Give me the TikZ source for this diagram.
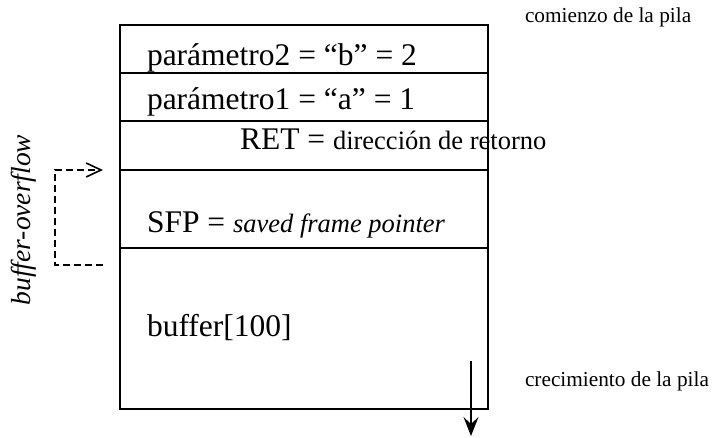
\documentclass[tikz,border=0pt]{standalone}
\usepackage{fontspec}
\setmainfont{Liberation Serif}
\usetikzlibrary{positioning,arrows.meta}

\begin{document}
\begin{tikzpicture}[x=1pt,y=-1pt] \tikzstyle{every node}=[inner sep=0pt,outer sep=0pt]
\tikzstyle{cell}=[draw,line width=1.2pt,minimum width=368pt]
\tikzstyle{big}=[font=\fontsize{31.5}{31.5}\selectfont,anchor=base west]
\tikzstyle{note}=[font=\fontsize{21.3}{21.3}\selectfont,anchor=base west]
\useasboundingbox (0,0) rectangle (712,437);
% the stack
\node[cell,minimum height=48pt] (c1) at (304,49) {};
\node[cell,minimum height=48pt,below=0pt of c1] (c2) {};
\node[cell,minimum height=49pt,below=0pt of c2] (c3) {};
\node[cell,minimum height=78pt,below=0pt of c3] (c4) {};
\node[cell,minimum height=161pt,below=0pt of c4] (c5) {};
\node[big] (par2) at (147,65) {parámetro2 = “b” = 2};
\node[big] (par1) at (147,109) {parámetro1 = “a” = 1};
\node[big] (ret) at (240,149) {RET = {\fontsize{26.5}{26.5}\selectfont dirección de retorno}};
\node[big] (sfp) at (147,232) {SFP = {\fontsize{26.5}{26.5}\selectfont\itshape saved frame pointer}};
\node[big] (buf) at (147,336) {buffer[100]};
\node[note] (start) at (525,22) {comienzo de la pila};
\node[note] (grow) at (525,386) {crecimiento de la pila};
% growth arrow
\coordinate (g0) at (471,361);
\coordinate (g1) at (471,436);
\draw[line width=1.5pt,-{Stealth[length=19pt,width=15pt,inset=7pt]}] (g0) -- (g1);
% overflow
\coordinate (ovb) at (103,265);
\coordinate (ovt) at (103,170);
\draw[line width=1.2pt,dash pattern=on 7pt off 4pt,-{Straight Barb[length=15pt,width=14pt,line width=1.6pt]}] (ovb) -- ++(-48,0) |- (ovt);
\node[rotate=90,font=\fontsize{27.5}{27.5}\selectfont\itshape] (ovl) at (24,220) {buffer-overflow};
\end{tikzpicture}
\end{document}
